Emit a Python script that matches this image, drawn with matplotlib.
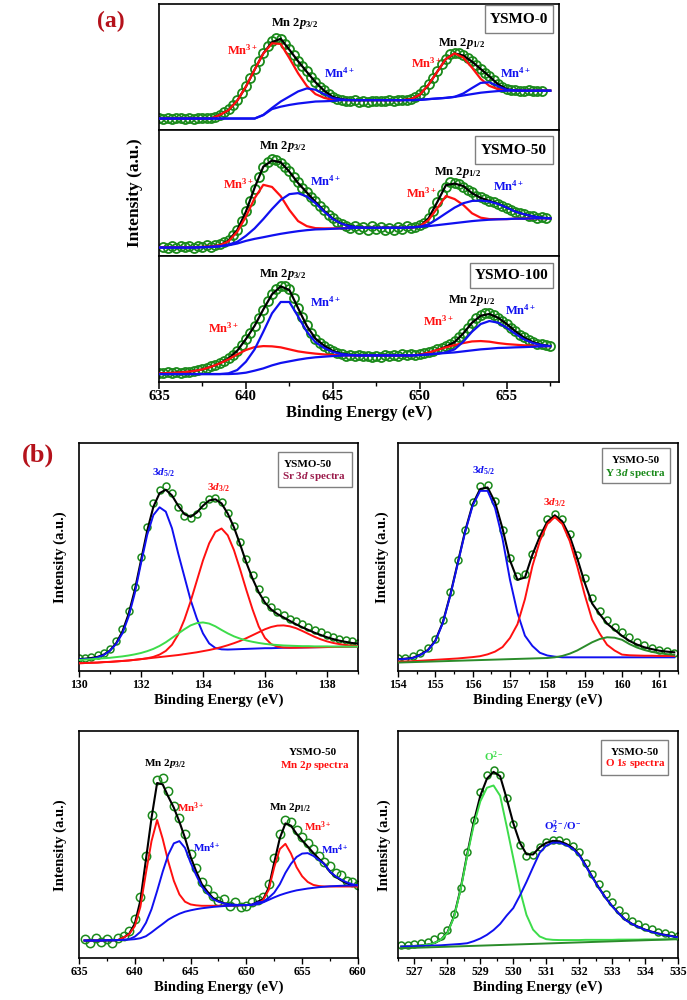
import numpy as np
import matplotlib
matplotlib.use('Agg')
import matplotlib.pyplot as plt
from matplotlib.patches import Rectangle
from matplotlib.ticker import MultipleLocator

plt.rcParams['font.family'] = ['Liberation Serif', 'DejaVu Serif']
plt.rcParams['font.weight'] = 'bold'
plt.rcParams['mathtext.fontset'] = 'custom'
plt.rcParams['mathtext.rm'] = 'Liberation Serif:bold'
plt.rcParams['mathtext.it'] = 'Liberation Serif:italic:bold'
plt.rcParams['mathtext.bf'] = 'Liberation Serif:bold'
plt.rcParams['axes.linewidth'] = 1.2

# ---------------- Panel (a): Mn 2p, three samples (y in % of panel height) -------------
XA = np.arange(635.0, 657.51, 0.5)
A1_BG = [9.1]*12 + [11.8, 16.6, 18.5, 19.9, 21.0, 21.8, 22.6, 22.8, 23.1, 23.7] + [23.7]*8 + \
        [23.9, 24.5, 25.0, 25.5, 26.3, 27.4, 28.5, 29.6, 30.3, 30.9] + [31.2]*6
A1_MN3 = [9.1]*7 + [12.0, 15.8, 23.3, 34.4, 47.9, 60.6, 68.8, 68.3, 57.0, 45.0, 35.0, 28.5, 25.5, 24.0, 23.8] + \
         [23.7]*7 + [24.5] + [28.0, 35.9, 46.2, 56.4, 60.8, 57.5, 49.5, 40.6, 35.0, 32.4] + [31.6, 31.3] + [31.2]*4
A1_MN4 = [9.1]*12 + [12.0, 17.5, 22.6, 26.6, 30.6, 33.0, 32.0, 28.5, 25.3, 24.2] + [23.7]*8 + \
         [23.9, 24.5, 25.0, 25.5, 26.3, 29.0, 33.3, 37.4, 37.9, 34.7] + [32.0, 31.4] + [31.2]*4
A1_FIT = [9.1]*7 + [12.0, 15.8, 23.3, 34.4, 47.9, 60.8, 69.7, 72.4, 63.7, 54.6, 46.2, 37.9, 31.2, 26.2, 24.3] + \
         [23.7]*7 + [24.5] + [28.0, 35.9, 46.2, 56.4, 60.8, 59.1, 54.3, 48.4, 42.6, 36.2] + [32.4, 31.5] + [31.2]*4
A1_DATA_X = np.arange(635.0, 657.01, 0.25)
A1_DATA = [9.3, 8.9, 9.4, 9.0, 9.2, 9.5, 9.0, 9.3, 9.1, 9.6,
           9.2, 9.5, 9.8, 10.6, 12.3, 14.0, 16.5, 19.8, 24.0, 29.0,
           35.0, 41.5, 48.5, 55.0, 61.0, 66.5, 70.5, 72.8, 72.0, 68.5,
           64.0, 59.5, 55.0, 50.5, 46.5, 42.0, 38.0, 34.5, 31.5, 28.5,
           26.5, 25.0, 24.0, 23.2, 22.8, 23.5, 22.6, 23.0, 22.5, 23.2,
           22.7, 23.4, 22.9, 23.5, 23.0, 23.6, 23.8, 24.2, 25.0, 26.5,
           28.5, 32.0, 36.5, 41.5, 46.5, 52.0, 56.5, 60.0, 61.5, 61.0,
           59.5, 57.0, 54.5, 51.5, 48.5, 45.5, 42.5, 39.5, 36.5, 34.0,
           32.5, 31.8, 31.5, 31.2, 31.0, 31.4, 30.9, 31.3, 31.0]

A2_BG = [6.7, 6.7, 6.7, 6.7, 6.7, 7.0, 7.2, 7.7, 8.5, 9.9, 12.0, 13.6, 14.9, 16.3, 17.6, 18.7, 19.7, 20.5,
         21.1, 21.3, 21.6, 21.9, 22.1, 22.4, 22.4, 22.4, 22.4, 22.4, 22.4, 22.7, 23.2, 23.7, 24.5, 25.3,
         26.1, 26.9, 27.7, 28.3, 28.8, 29.1, 29.3, 29.6, 29.6, 29.9, 29.9, 29.9]
A2_MN3 = [7.0]*5 + [7.2, 7.5, 8.5, 11.7, 19.2, 31.2, 45.9, 56.5, 54.8, 47.5, 36.5, 27.7, 23.7, 22.1, 21.9,
          21.9, 22.0] + [22.3]*7 + [22.5] + [23.5, 28.5, 37.9, 47.6, 45.2, 40.5, 33.9, 30.4, 29.3, 29.3,
          29.3, 29.6, 29.6, 29.9, 29.9, 29.9]
A2_MN4 = [6.7, 6.7, 6.7, 6.7, 6.7, 7.0, 7.2, 7.7, 9.1, 11.2, 16.0, 21.9, 29.3, 37.3, 44.5, 49.1, 49.9, 47.2,
          41.9, 35.2, 29.3, 25.6, 23.5, 22.7] + [22.4]*5 + [22.7, 23.2, 25.1, 29.3, 33.9, 38.4, 41.9, 43.7,
          44.0, 43.2, 41.3, 38.4, 35.2, 33.1, 31.5, 30.4, 29.9]
A2_FIT = [7.0, 7.0, 7.0, 7.0, 7.0, 7.2, 7.5, 8.5, 12.3, 20.5, 35.2, 54.2, 70.9, 75.8, 74.4, 66.9, 57.9, 50.4,
          42.9, 35.8, 29.6, 25.7, 23.7, 22.6, 22.3, 22.3, 22.3, 22.3, 22.3, 22.5, 23.5, 29.9, 42.7, 56.2,
          57.5, 55.5, 49.9, 46.1, 43.7, 41.5, 38.4, 35.2, 33.1, 31.5, 30.4, 29.9]
A2_DATA_X = np.arange(635.25, 657.26, 0.25)
A2_DATA = [7.5, 6.2, 7.8, 6.5, 8.0, 6.8, 7.9, 6.4, 8.2, 7.0,
           8.4, 7.2, 8.8, 9.5, 11.0, 13.0, 16.5, 21.0, 27.5, 35.5,
           44.0, 53.5, 63.0, 70.5, 75.0, 77.0, 76.5, 74.0, 70.5, 67.5,
           62.5, 58.5, 54.0, 50.5, 47.0, 43.5, 39.5, 36.5, 32.5, 30.0,
           27.0, 25.5, 24.0, 22.5, 24.0, 21.5, 23.0, 21.0, 23.5, 21.5,
           23.0, 20.8, 22.5, 21.0, 23.0, 21.5, 23.5, 22.0, 23.0, 24.5,
           26.5, 30.5, 36.0, 42.5, 49.5, 55.0, 58.5, 58.0, 57.5, 55.0,
           52.5, 50.5, 48.0, 46.5, 45.0, 44.0, 42.5, 41.0, 39.5, 38.0,
           36.5, 35.0, 34.0, 33.5, 32.0, 31.5, 30.5, 30.8, 29.8]

A3_BG = [6.3]*9 + [6.6, 7.4, 9.0, 10.8, 13.2, 15.1, 16.4, 17.7, 18.8, 19.6, 20.1, 20.6, 20.9] + [21.1]*8 + \
        [21.4, 21.9, 22.5, 23.0, 23.5, 24.3, 25.1, 25.9, 26.4, 27.0, 27.2, 27.5, 27.7, 28.0, 28.3, 28.5]
A3_MN3 = [6.9, 7.1, 7.4, 7.9, 8.7, 10.0, 12.1, 14.8, 18.0, 21.9, 25.4, 27.7, 28.5, 28.3, 27.5, 25.9, 24.3,
          23.3, 22.5, 21.9, 21.4] + [21.1]*9 + [21.7, 23.3, 25.4, 27.5, 29.3, 30.9, 32.2, 32.5, 32.0, 30.9,
          30.1, 29.6, 29.1, 28.8, 28.5, 28.5]
A3_MN4 = [6.3]*8 + [6.9, 9.5, 16.1, 25.9, 39.9, 54.5, 63.5, 63.5, 52.0, 40.0, 31.5, 27.0, 23.8, 22.2, 21.4] + \
         [21.1]*7 + [21.4, 21.9, 22.5] + [23.5, 25.9, 32.0, 39.9, 46.0, 48.4, 47.1, 43.1, 38.1, 33.8, 30.9,
         29.3, 28.5]
A3_FIT = [6.9, 7.1, 7.4, 7.9, 8.7, 10.0, 12.1, 14.8, 18.6, 24.8, 34.1, 44.6, 57.6, 69.6, 75.9, 73.0, 58.6,
          44.5, 34.4, 28.8, 24.6, 22.4, 21.4] + [21.1]*7 + [21.7, 23.3, 25.4, 28.0, 31.7, 38.6, 47.0, 52.6,
          54.0, 51.0, 46.0, 40.2, 35.2, 31.7, 29.5, 28.5]
A3_DATA_X = np.arange(635.0, 657.51, 0.25)
A3_DATA = [7.5, 6.8, 7.6, 7.0, 7.8, 7.5, 8.3, 8.2, 9.0, 9.2,
           10.3, 11.0, 12.4, 13.4, 15.0, 16.5, 18.8, 21.5, 25.0, 29.0,
           34.0, 39.0, 44.5, 51.0, 57.5, 64.0, 69.5, 73.5, 76.0, 76.5,
           73.5, 66.5, 59.0, 51.5, 45.0, 39.0, 34.5, 31.0, 28.5, 26.0,
           24.5, 23.0, 22.0, 21.0, 21.5, 20.5, 21.2, 20.3, 21.0, 20.0,
           21.0, 20.2, 21.3, 20.5, 21.5, 21.0, 22.0, 21.5, 22.0, 21.8,
           22.5, 23.0, 24.0, 24.8, 26.0, 27.0, 28.5, 30.5, 32.5, 35.5,
           39.0, 43.0, 47.0, 50.5, 53.0, 54.5, 54.5, 53.0, 51.0, 48.5,
           46.0, 43.0, 40.5, 37.5, 35.5, 33.5, 32.0, 30.5, 29.8, 29.0,
           28.5]

A_SAMPLES = ['YSMO-0', 'YSMO-50', 'YSMO-100']
A_TICKS = [635, 640, 645, 650, 655]

# ---------------- Panel (b1): Sr 3d ----------------
XB1 = np.arange(130.0, 139.01, 0.2)
B1_D52 = [5.1, 5.3, 5.4, 6.0, 7.0, 8.9, 11.9, 16.5, 23.8, 34.1, 47.2, 59.7, 68.4, 71.8, 69.9, 62.6, 51.6,
          41.4, 31.2, 23.1, 16.5, 12.1, 10.1, 9.5, 9.4, 9.5, 9.6, 9.7, 9.8, 9.9, 10.0, 10.0, 10.1, 10.2,
          10.2, 10.3, 10.3, 10.4, 10.4, 10.5, 10.5, 10.6, 10.6, 10.7, 10.7, 10.8]
B1_D32 = [3.4, 3.5, 3.6, 3.7, 3.9, 4.0, 4.2, 4.4, 4.6, 4.9, 5.2, 5.6, 6.2, 7.2, 8.8, 11.5, 16.0, 22.5, 30.5,
          39.5, 48.5, 56.0, 61.0, 62.5, 59.5, 53.0, 44.5, 35.5, 27.0, 19.5, 14.5, 11.8, 10.7, 10.3, 10.2,
          10.2, 10.3, 10.3, 10.4, 10.4, 10.5, 10.5, 10.6, 10.6, 10.7, 10.7]
B1_SAT = [3.4, 3.5, 3.6, 3.7, 3.9, 4.0, 4.2, 4.4, 4.6, 4.9, 5.2, 5.5, 5.8, 6.1, 6.4, 6.7, 7.0, 7.4, 7.8,
          8.2, 8.7, 9.2, 9.8, 10.5, 11.3, 12.2, 13.2, 14.4, 15.7, 17.0, 18.3, 19.3, 19.9, 20.0, 19.6, 18.8,
          17.6, 16.3, 15.0, 13.9, 13.0, 12.3, 11.8, 11.4, 11.1, 10.9]
B1_GREEN = [4.8, 5.0, 5.2, 5.4, 5.6, 5.8, 6.1, 6.4, 6.8, 7.3, 7.9, 8.7, 9.7, 11.0, 12.6, 14.5, 16.4, 18.3,
            20.0, 21.0, 21.3, 20.8, 19.6, 18.0, 16.5, 15.2, 14.2, 13.4, 12.8, 12.3, 11.9, 11.6, 11.4, 11.2,
            11.1, 11.0, 10.9, 10.9, 10.8, 10.8, 10.8, 10.7, 10.7, 10.7, 10.7, 10.7]
B1_FIT = [5.2, 5.4, 5.7, 6.2, 7.2, 9.0, 12.2, 17.3, 25.0, 35.5, 48.5, 61.5, 72.0, 78.0, 79.5, 77.0, 72.5,
          68.8, 67.6, 69.5, 72.5, 74.8, 75.3, 73.5, 69.0, 63.0, 55.5, 47.5, 40.5, 34.5, 30.0, 27.0, 25.0,
          23.5, 22.0, 20.5, 19.2, 18.0, 16.8, 15.8, 14.8, 14.0, 13.3, 12.8, 12.3, 12.0]
B1_DATA = [5.6, 5.9, 6.3, 6.8, 7.9, 9.5, 13.0, 18.5, 26.5, 37.0, 50.0, 63.0, 73.5, 79.5, 81.3, 78.0, 72.0,
           68.0, 67.0, 69.0, 72.8, 75.5, 76.0, 74.0, 69.5, 63.5, 56.5, 49.0, 42.0, 36.0, 31.0, 28.0, 26.0,
           24.5, 23.0, 21.8, 20.5, 19.2, 18.0, 17.0, 16.0, 15.0, 14.2, 13.6, 13.0, 12.5]

# ---------------- Panel (b2): Y 3d ----------------
XB2 = np.arange(154.0, 161.41, 0.2)
B2_D52 = [5.1, 5.3, 5.7, 7.0, 9.0, 13.0, 21.0, 33.0, 47.0, 61.0, 72.5, 79.0, 79.0, 71.5, 58.0, 40.0, 25.5,
          15.5, 11.0, 8.0, 6.8, 6.3] + [6.0]*16
B2_D32 = [4.1, 4.2, 4.3, 4.5, 4.7, 4.9, 5.1, 5.3, 5.5, 5.8, 6.1, 6.5, 7.3, 8.5, 10.5, 14.5, 20.5, 31.5, 46.0,
          57.0, 64.5, 67.5, 64.5, 57.0, 46.0, 33.5, 22.5, 16.5, 11.5, 9.0, 7.2, 6.9, 6.8, 6.7, 6.7, 6.6,
          6.6, 6.6]
B2_GREEN = [3.7, 3.8, 3.9, 4.0, 4.1, 4.2, 4.3, 4.4, 4.5, 4.6, 4.7, 4.8, 4.9, 5.0, 5.1, 5.2, 5.3, 5.4, 5.5,
            5.6, 5.7, 6.0, 6.6, 7.6, 9.0, 10.8, 12.6, 14.0, 14.8, 14.6, 13.7, 11.8, 10.3, 9.2, 8.4, 7.8,
            7.4, 7.1]
B2_FIT = [5.2, 5.4, 5.8, 7.2, 9.2, 13.3, 21.3, 33.4, 47.4, 61.5, 73.1, 79.8, 80.5, 74.0, 62.5, 48.5, 40.0,
          41.0, 51.0, 59.0, 65.5, 68.3, 65.6, 59.1, 49.5, 38.8, 29.6, 25.0, 20.8, 18.1, 15.4, 13.2, 11.6,
          10.4, 9.6, 8.9, 8.5, 8.2]
B2_DATA = [5.6, 5.9, 6.5, 7.9, 10.0, 14.0, 22.5, 34.5, 48.5, 62.0, 74.0, 81.0, 81.5, 74.5, 62.0, 49.5, 41.5,
           42.5, 51.5, 60.5, 66.5, 69.0, 66.5, 60.0, 51.0, 41.0, 32.0, 26.5, 22.5, 19.5, 17.0, 14.8, 12.8,
           11.3, 10.2, 9.3, 8.6, 8.0]

# ---------------- Panel (b3): Mn 2p of YSMO-50 ----------------
XB3 = np.arange(635.5, 660.01, 0.5)
B3_BG = [7.7, 7.7, 7.7, 7.7, 7.8, 7.8, 7.9, 8.0, 8.1, 8.3, 8.7, 9.6, 11.3, 13.2, 15.0, 16.9, 18.3, 19.5,
         20.4, 21.0, 21.5, 21.9, 22.2, 22.5, 22.7, 22.9, 23.0, 23.1, 23.2, 23.3, 23.4, 23.7, 24.5, 25.6,
         26.7, 27.7, 28.5, 29.2, 29.8, 30.2, 30.6, 30.9, 31.2, 31.4, 31.6, 31.7, 31.8, 31.9, 31.9, 32.0]
B3_MN3 = [7.7, 7.7, 7.7, 7.7, 7.8, 7.8, 7.9, 9.0, 10.5, 14.0, 22.5, 37.5, 51.5, 60.8, 52.5, 42.5, 34.0,
          28.0, 24.8, 23.6, 23.2, 23.0, 23.0, 23.0, 23.0, 23.0, 23.0, 23.1, 23.2, 23.3, 23.4, 24.0, 25.5,
          30.0, 40.0, 48.0, 50.3, 46.0, 40.0, 36.0, 33.5, 32.2, 31.7, 31.5, 31.5, 31.5, 31.5, 31.5, 31.5,
          31.5]
B3_MN4 = [7.7, 7.7, 7.7, 7.7, 7.8, 7.8, 7.9, 8.0, 8.3, 9.4, 11.5, 15.5, 21.5, 29.5, 38.0, 45.5, 50.5,
          51.5, 48.5, 42.0, 36.5, 31.5, 28.5, 26.0, 24.8, 24.0, 23.6, 23.4, 23.3, 23.3, 23.5, 24.5, 24.8,
          26.5, 28.8, 32.5, 37.5, 41.5, 44.5, 46.0, 46.2, 45.0, 43.2, 41.3, 38.0, 36.0, 34.5, 33.3, 32.5,
          32.0]
B3_FIT = [7.7, 7.7, 7.7, 7.7, 7.8, 7.8, 7.9, 9.0, 10.7, 15.1, 25.3, 43.4, 61.7, 77.1, 76.5, 71.1, 66.2,
          60.0, 52.9, 44.6, 38.2, 32.6, 29.3, 26.5, 25.1, 24.1, 23.6, 23.4, 23.3, 23.3, 23.5, 24.8, 25.8,
          30.9, 42.1, 52.8, 59.3, 58.3, 54.7, 51.8, 49.1, 46.3, 43.7, 41.4, 37.9, 35.8, 34.2, 32.9, 32.1,
          31.5]
B3_DATA = [8.5, 6.8, 8.9, 7.0, 8.4, 6.5, 8.8, 9.8, 12.0, 17.0, 27.0, 45.0, 63.0, 78.5, 79.5, 73.5, 67.0,
           61.5, 54.5, 46.0, 39.5, 33.5, 30.5, 27.5, 25.0, 26.0, 23.0, 24.5, 22.5, 23.0, 24.5, 25.5, 27.0,
           32.5, 44.0, 54.5, 61.0, 60.0, 56.5, 53.5, 50.5, 48.0, 45.0, 42.5, 40.5, 37.5, 36.5, 34.0, 33.5,
           32.0]

# ---------------- Panel (b4): O 1s ----------------
XB4 = np.arange(526.6, 535.01, 0.2)
B4_BG_X = [526.6, 535.0]
B4_BG = [4.3, 8.3]
B4_O2 = [5.0, 5.1, 5.3, 5.5, 5.9, 6.6, 8.0, 11.0, 18.0, 30.0, 45.0, 58.5, 69.0, 75.0, 76.0, 71.5, 58.0,
         44.0, 30.0, 19.0, 12.5, 9.5, 8.3, 8.0, 7.9, 7.9, 7.9, 7.9, 8.0, 8.0, 8.0, 8.0, 8.0, 8.1, 8.1,
         8.1, 8.1, 8.2, 8.2, 8.2, 8.2, 8.3, 8.3]
B4_OX = [5.0, 5.1, 5.2, 5.3, 5.4, 5.5, 5.6, 5.8, 6.0, 6.2, 6.5, 7.4, 8.6, 10.2, 12.3, 15.0, 18.7, 22.0,
         27.5, 33.5, 40.0, 46.3, 49.5, 50.8, 50.8, 49.8, 48.2, 45.3, 40.5, 35.5, 30.8, 26.5, 22.8, 19.6,
         16.8, 15.0, 13.6, 12.4, 11.5, 10.7, 10.1, 9.6, 9.1]
B4_FIT = [5.0, 5.1, 5.3, 5.5, 5.9, 6.6, 8.0, 11.2, 18.3, 30.4, 45.6, 59.9, 71.5, 79.0, 82.0, 80.1, 70.2,
          59.4, 50.8, 45.7, 45.6, 48.8, 50.7, 51.6, 51.4, 50.3, 48.6, 45.6, 40.8, 35.7, 30.9, 26.6, 22.9,
          19.7, 16.9, 15.1, 13.7, 12.5, 11.6, 10.8, 10.2, 9.7, 9.2]
B4_DATA = [5.8, 5.9, 6.2, 6.6, 7.2, 8.2, 9.8, 12.5, 19.5, 31.0, 46.5, 61.0, 73.0, 80.5, 83.0, 80.5, 70.5,
           59.0, 50.0, 45.0, 45.5, 49.0, 51.0, 52.0, 52.0, 51.0, 49.5, 46.5, 42.0, 37.0, 32.5, 28.0, 24.5,
           21.2, 18.5, 16.5, 15.0, 13.7, 12.6, 11.6, 10.8, 10.2, 9.5]

# ---------------- colours ----------------
C_DATA = '#1b8a1b'
C_RED = '#ff1010'
C_BLUE = '#1010f0'
C_LGREEN = '#3ddc4a'
C_DGREEN = '#2a8c2a'
C_PANEL = '#b5121b'

fig = plt.figure(figsize=(6.87, 10.0), dpi=100)


def box(ax, x0, y0, x1, y1):
    ax.add_patch(Rectangle((x0, y0), x1 - x0, y1 - y0, transform=ax.transAxes,
                           facecolor='white', edgecolor='#808080', lw=1.0, zorder=6))


# ---------------- Panel (a) ----------------
a_left, a_w, a_h = 0.2314, 0.5822, 0.126
a_bottoms = [0.870, 0.744, 0.618]
a_sets = [(A1_BG, A1_MN3, A1_MN4, A1_FIT, A1_DATA_X, A1_DATA),
          (A2_BG, A2_MN3, A2_MN4, A2_FIT, A2_DATA_X, A2_DATA),
          (A3_BG, A3_MN3, A3_MN4, A3_FIT, A3_DATA_X, A3_DATA)]
a_labels = [
    [(642.8, 84.7, 'Mn 2$p_{3/2}$', 'black'), (639.8, 63, 'Mn$^{3+}$', C_RED), (645.4, 45, 'Mn$^{4+}$', C_BLUE),
     (652.4, 69, 'Mn 2$p_{1/2}$', 'black'), (650.4, 53, 'Mn$^{3+}$', C_RED), (655.5, 45, 'Mn$^{4+}$', C_BLUE)],
    [(642.1, 87, 'Mn 2$p_{3/2}$', 'black'), (639.6, 57, 'Mn$^{3+}$', C_RED), (644.6, 59, 'Mn$^{4+}$', C_BLUE),
     (652.2, 66, 'Mn 2$p_{1/2}$', 'black'), (650.1, 50, 'Mn$^{3+}$', C_RED), (655.1, 55, 'Mn$^{4+}$', C_BLUE)],
    [(642.1, 85, 'Mn 2$p_{3/2}$', 'black'), (638.7, 43, 'Mn$^{3+}$', C_RED), (644.6, 63, 'Mn$^{4+}$', C_BLUE),
     (653.0, 65, 'Mn 2$p_{1/2}$', 'black'), (651.1, 48, 'Mn$^{3+}$', C_RED), (655.8, 57, 'Mn$^{4+}$', C_BLUE)],
]
a_boxes = [(0.815, 0.766, 0.985, 0.992), (0.79, 0.728, 0.985, 0.952), (0.7775, 0.746, 0.985, 0.944)]

for i in range(3):
    ax = fig.add_axes([a_left, a_bottoms[i], a_w, a_h])
    bg, mn3, mn4, fit, dx, dy = a_sets[i]
    ax.plot(dx, dy, 'o', mfc='none', mec=C_DATA, ms=6.5, mew=1.3, zorder=2)
    ax.plot(XA, fit, color='black', lw=1.6, zorder=3)
    ax.plot(XA, mn3, color=C_RED, lw=1.6, zorder=4)
    ax.plot(XA, mn4, color=C_BLUE, lw=1.6, zorder=4)
    ax.plot(XA, bg, color=C_BLUE, lw=1.6, zorder=4)
    ax.set_xlim(635, 658)
    ax.set_ylim(0, 100)
    ax.set_yticks([])
    ax.xaxis.set_major_locator(MultipleLocator(5))
    ax.xaxis.set_minor_locator(MultipleLocator(2.5))
    if i < 2:
        ax.tick_params(axis='x', which='both', bottom=False, labelbottom=False)
    else:
        ax.set_xticks(A_TICKS)
        ax.tick_params(axis='x', which='major', direction='out', length=5, width=1.1, labelsize=10.5, pad=1)
        ax.tick_params(axis='x', which='minor', direction='out', length=3, width=1.0)
    for (x, y, t, c) in a_labels[i]:
        ax.text(x, y, t, color=c, fontsize=9, ha='center', va='center', zorder=7)
    x0, y0, x1, y1 = a_boxes[i]
    box(ax, x0, y0, x1, y1)
    ax.text((x0 + x1) / 2, (y0 + y1) / 2, A_SAMPLES[i], transform=ax.transAxes, fontsize=11,
            ha='center', va='center', zorder=7)

fig.text(0.5226, 0.587, 'Binding Energy (eV)', ha='center', va='center', fontsize=12)
fig.text(0.197, 0.807, 'Intensity (a.u.)', ha='center', va='center', rotation=90, fontsize=12.5)
fig.text(0.162, 0.979, '(a)', color=C_PANEL, fontsize=17, ha='center', va='center')
fig.text(0.055, 0.545, '(b)', color=C_PANEL, fontsize=19, ha='center', va='center')


# ---------------- Panel (b) ----------------
def setup_b(ax, xlim, major, minor):
    ax.set_xlim(*xlim)
    ax.set_ylim(0, 100)
    ax.set_yticks([])
    ax.xaxis.set_major_locator(MultipleLocator(major))
    ax.xaxis.set_minor_locator(MultipleLocator(minor))
    ax.tick_params(axis='x', which='major', direction='out', length=4, width=1.0, labelsize=8.5, pad=2)
    ax.tick_params(axis='x', which='minor', direction='out', length=2.5, width=0.9)


b_pos = {'b1': [0.115, 0.329, 0.406, 0.228], 'b2': [0.5793, 0.329, 0.4076, 0.228],
         'b3': [0.115, 0.042, 0.406, 0.227], 'b4': [0.5793, 0.042, 0.4076, 0.227]}

# b1 Sr 3d
ax = fig.add_axes(b_pos['b1'])
ax.plot(XB1, B1_DATA, 'o', mfc='none', mec=C_DATA, ms=5, mew=1.1, zorder=2)
ax.plot(XB1, B1_FIT, color='black', lw=1.5, zorder=3)
ax.plot(XB1, B1_D52, color=C_BLUE, lw=1.4, zorder=4)
ax.plot(XB1, B1_D32, color=C_RED, lw=1.4, zorder=4)
ax.plot(XB1, B1_SAT, color=C_RED, lw=1.4, zorder=4)
ax.plot(XB1, B1_GREEN, color=C_LGREEN, lw=1.4, zorder=4)
setup_b(ax, (130, 139), 2, 1)
ax.text(132.73, 86.8, '3$d_{5/2}$', color=C_BLUE, fontsize=8, ha='center', va='center')
ax.text(134.5, 80.3, '3$d_{3/2}$', color=C_RED, fontsize=8, ha='center', va='center')
box(ax, 0.713, 0.807, 0.978, 0.96)
ax.text(0.82, 0.904, 'YSMO-50', transform=ax.transAxes, fontsize=8, ha='center', va='center', zorder=7)
ax.text(0.842, 0.851, 'Sr 3$d$ spectra', color='#9b1b4b', transform=ax.transAxes, fontsize=8,
        ha='center', va='center', zorder=7)

# b2 Y 3d
ax = fig.add_axes(b_pos['b2'])
ax.plot(XB2, B2_DATA, 'o', mfc='none', mec=C_DATA, ms=5, mew=1.1, zorder=2)
ax.plot(XB2, B2_FIT, color='black', lw=1.5, zorder=3)
ax.plot(XB2, B2_D52, color=C_BLUE, lw=1.4, zorder=4)
ax.plot(XB2, B2_D32, color=C_RED, lw=1.4, zorder=4)
ax.plot(XB2, B2_GREEN, color=C_DGREEN, lw=1.4, zorder=4)
setup_b(ax, (154, 161.5), 1, 0.5)
ax.text(156.3, 88, '3$d_{5/2}$', color=C_BLUE, fontsize=8, ha='center', va='center')
ax.text(158.2, 74, '3$d_{3/2}$', color=C_RED, fontsize=8, ha='center', va='center')
box(ax, 0.729, 0.825, 0.971, 0.978)
ax.text(0.85, 0.925, 'YSMO-50', transform=ax.transAxes, fontsize=8, ha='center', va='center', zorder=7)
ax.text(0.85, 0.868, 'Y 3$d$ spectra', color='#1a8a1a', transform=ax.transAxes, fontsize=8,
        ha='center', va='center', zorder=7)

# b3 Mn 2p
ax = fig.add_axes(b_pos['b3'])
ax.plot(XB3, B3_DATA, 'o', mfc='none', mec=C_DATA, ms=6, mew=1.1, zorder=2)
ax.plot(XB3, B3_FIT, color='black', lw=1.5, zorder=3)
ax.plot(XB3, B3_MN3, color=C_RED, lw=1.4, zorder=4)
ax.plot(XB3, B3_MN4, color=C_BLUE, lw=1.4, zorder=4)
ax.plot(XB3, B3_BG, color=C_BLUE, lw=1.4, zorder=4)
setup_b(ax, (635, 660), 5, 2.5)
for (x, y, t, c) in [(642.7, 85.9, 'Mn 2$p_{3/2}$', 'black'), (645.0, 66, 'Mn$^{3+}$', C_RED),
                     (646.5, 48.5, 'Mn$^{4+}$', C_BLUE), (653.9, 66.5, 'Mn 2$p_{1/2}$', 'black'),
                     (656.4, 57.7, 'Mn$^{3+}$', C_RED), (657.9, 47.6, 'Mn$^{4+}$', C_BLUE)]:
    ax.text(x, y, t, color=c, fontsize=8, ha='center', va='center')
ax.text(0.839, 0.907, 'YSMO-50', transform=ax.transAxes, fontsize=8, ha='center', va='center')
ax.text(0.845, 0.85, 'Mn 2$p$ spectra', color=C_RED, transform=ax.transAxes, fontsize=8,
        ha='center', va='center')

# b4 O 1s
ax = fig.add_axes(b_pos['b4'])
ax.plot(XB4, B4_DATA, 'o', mfc='none', mec=C_DATA, ms=5, mew=1.1, zorder=2)
ax.plot(XB4, B4_FIT, color='black', lw=1.5, zorder=3)
ax.plot(XB4, B4_O2, color=C_LGREEN, lw=1.4, zorder=4)
ax.plot(XB4, B4_OX, color=C_BLUE, lw=1.4, zorder=4)
ax.plot(B4_BG_X, B4_BG, color=C_DGREEN, lw=1.4, zorder=4)
setup_b(ax, (526.5, 535), 1, 0.5)
ax.text(529.4, 88.6, 'O$^{2-}$', color=C_LGREEN, fontsize=8, ha='center', va='center')
ax.text(531.5, 57.7, 'O$_2^{2-}$/O$^{-}$', color=C_BLUE, fontsize=8, ha='center', va='center')
box(ax, 0.725, 0.806, 0.964, 0.96)
ax.text(0.846, 0.907, 'YSMO-50', transform=ax.transAxes, fontsize=8, ha='center', va='center', zorder=7)
ax.text(0.846, 0.859, 'O 1$s$ spectra', color=C_RED, transform=ax.transAxes, fontsize=8,
        ha='center', va='center', zorder=7)

# axis titles of panel (b)
for xc in (0.318, 0.783):
    fig.text(xc, 0.300, 'Binding Energy (eV)', ha='center', va='center', fontsize=10.5)
    fig.text(xc, 0.013, 'Binding Energy (eV)', ha='center', va='center', fontsize=10.5)
for (xc, yc) in [(0.0873, 0.443), (0.556, 0.443), (0.0873, 0.155), (0.559, 0.155)]:
    fig.text(xc, yc, 'Intensity (a.u.)', ha='center', va='center', rotation=90, fontsize=10.5)

fig.savefig('out.png', dpi=100)
